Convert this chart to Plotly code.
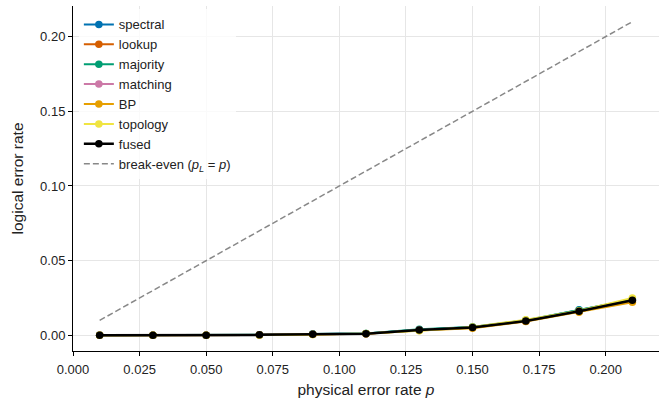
import plotly.graph_objects as go

p = [0.01, 0.03, 0.05, 0.07, 0.09, 0.11, 0.13, 0.15, 0.17, 0.19, 0.21]
spectral = [0.0, 0.0, 0.0001, 0.0003, 0.0008, 0.0012, 0.0038, 0.0055, 0.0100, 0.0172, 0.0240]
lookup = [0.0, 0.0, 0.0001, 0.0003, 0.0007, 0.0011, 0.0036, 0.0052, 0.0095, 0.0160, 0.0230]
majority = [0.0, 0.0, 0.0001, 0.0004, 0.0008, 0.0012, 0.0040, 0.0056, 0.0101, 0.0168, 0.0238]
matching = [0.0, 0.0, 0.0001, 0.0003, 0.0007, 0.0011, 0.0036, 0.0052, 0.0096, 0.0161, 0.0234]
bp = [0.0, 0.0, 0.0, 0.0002, 0.0006, 0.0010, 0.0032, 0.0048, 0.0092, 0.0155, 0.0222]
topology = [0.0, 0.0, 0.0, 0.0002, 0.0006, 0.0012, 0.0030, 0.0055, 0.0105, 0.0165, 0.0250]
fused = [0.0, 0.0, 0.0, 0.0003, 0.0007, 0.0011, 0.0036, 0.0052, 0.0096, 0.0161, 0.0235]

series = [
    ("spectral", spectral, "#0072B2", 2),
    ("lookup", lookup, "#D55E00", 2),
    ("majority", majority, "#009E73", 2),
    ("matching", matching, "#CC79A7", 2),
    ("BP", bp, "#E69F00", 2),
    ("topology", topology, "#F0E442", 2),
    ("fused", fused, "#000000", 2.5),
]

FONT = "Liberation Sans, Arial, sans-serif"

fig = go.Figure()
for name, vals, color, w in series:
    fig.add_trace(go.Scatter(
        x=p, y=vals, name=name, mode="lines+markers",
        line=dict(color=color, width=w),
        marker=dict(color=color, size=7.5),
    ))
fig.add_trace(go.Scatter(
    x=p, y=p, name="break-even (<i>p</i><sub><i>L</i></sub> = <i>p</i>)",
    mode="lines", line=dict(color="#888888", width=1.5, dash="6px,3px"),
))

axis_common = dict(
    showline=True, linecolor="black", linewidth=1,
    ticks="outside", ticklen=4, tickcolor="black", tickwidth=1,
    showgrid=True, gridcolor="#e6e6e6", gridwidth=0.8,
    zeroline=False, mirror=False,
    tickfont=dict(family=FONT, size=13, color="#222"),
    title_font=dict(family=FONT, size=15.5, color="#222"),
)

fig.update_layout(
    width=668, height=402,
    margin=dict(l=73, r=9, t=6, b=51),
    paper_bgcolor="white", plot_bgcolor="white",
    font=dict(family=FONT, size=13, color="#222"),
    xaxis=dict(range=[0, 0.22], dtick=0.025, tick0=0, tickformat=".3f",
               ticklabelstandoff=2,
               title=dict(text="physical error rate <i>p</i>", standoff=8), **axis_common),
    yaxis=dict(range=[-0.0105, 0.2205], dtick=0.05, tick0=0, tickformat=".2f",
               title=dict(text="logical error rate", standoff=12), **axis_common),
    legend=dict(x=0.01, y=0.99, xanchor="left", yanchor="top",
                bgcolor="rgba(255,255,255,0.8)", borderwidth=0,
                font=dict(family=FONT, size=13, color="#222"),
                tracegroupgap=0, itemwidth=30),
    showlegend=True,
)

fig.write_html("out.html")
